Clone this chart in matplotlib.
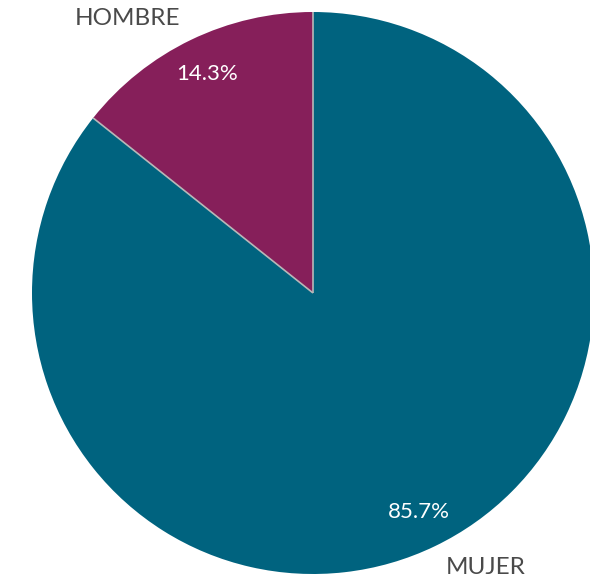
import matplotlib.pyplot as plt
import numpy as np

labels = ['MUJER', 'HOMBRE']
values = [85.7, 14.3]
colors = ['#00637f', '#861f5a']

plt.rcParams['font.family'] = ['Lato', 'DejaVu Sans']

fig = plt.figure(figsize=(5.9, 5.82), dpi=100)
# pie box in pixels: center (313, 293), radius 281
cx, cy, r = 313, 293, 281
ax = fig.add_axes([(cx - r) / 590, (582 - cy - r) / 582, 2 * r / 590, 2 * r / 582])

wedges, texts, autotexts = ax.pie(
    values, labels=labels, colors=colors, startangle=90, counterclock=False,
    autopct='%.1f%%', pctdistance=0.865, labeldistance=1.085,
    textprops={'fontsize': 17.5, 'color': '#4a4a4a'})
for t in autotexts:
    t.set_color('white')
    t.set_fontsize(16)

# thin light separators between slices
ang = 90.0
for v in values:
    a = np.deg2rad(ang)
    ax.plot([0, np.cos(a)], [0, np.sin(a)], color='#b8b8b8', lw=1.2, solid_capstyle='butt')
    ang -= v / sum(values) * 360

ax.set_xlim(-1, 1)
ax.set_ylim(-1, 1)
ax.set_aspect('auto')
ax.axis('off')

fig.savefig('out.png', dpi=100)
